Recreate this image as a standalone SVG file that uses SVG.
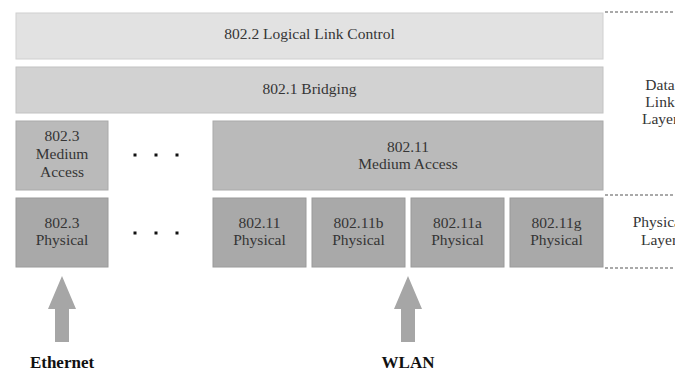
<svg xmlns="http://www.w3.org/2000/svg" width="675" height="371" viewBox="0 0 675 371">
<style>
text{font-family:"Liberation Serif","Times New Roman",serif;font-size:15.5px;fill:#353535;text-anchor:middle}
.llc{fill:#e2e2e2;stroke:#d0d0d0;stroke-width:1}
.br{fill:#d2d2d2;stroke:#c2c2c2;stroke-width:1}
.ma{fill:#bababa;stroke:#aaaaaa;stroke-width:1}
.ph{fill:#a9a9a9;stroke:#9a9a9a;stroke-width:1}
.dash{stroke:#555;stroke-width:1.2;stroke-dasharray:3 2;fill:none}
.arrow{fill:#a6a6a6}
.lbl{font-weight:bold;font-size:17px;fill:#111}
.dot{fill:#111}
</style>
<rect width="675" height="371" fill="#ffffff"/>
<g id="llc"><rect class="llc" x="16" y="13" width="587" height="46"/><text x="309.5" y="39">802.2 Logical Link Control</text></g>
<g id="bridging"><rect class="br" x="16" y="67" width="587" height="46"/><text x="309.5" y="94">802.1 Bridging</text></g>
<g id="ma8023"><rect class="ma" x="16" y="121" width="92" height="69"/><text x="62" y="141">802.3</text><text x="62" y="159">Medium</text><text x="62" y="177">Access</text></g>
<g id="ma80211"><rect class="ma" x="213" y="121" width="390" height="69"/><text x="408" y="152">802.11</text><text x="408" y="169">Medium Access</text></g>
<g id="ph8023"><rect class="ph" x="16" y="198" width="92" height="69"/><text x="62" y="228">802.3</text><text x="62" y="245">Physical</text></g>
<g id="ph80211"><rect class="ph" x="213" y="198" width="93" height="69"/><text x="259.5" y="228">802.11</text><text x="259.5" y="245">Physical</text></g>
<g id="ph80211b"><rect class="ph" x="312" y="198" width="93" height="69"/><text x="358.5" y="228">802.11b</text><text x="358.5" y="245">Physical</text></g>
<g id="ph80211a"><rect class="ph" x="411" y="198" width="93" height="69"/><text x="457.5" y="228">802.11a</text><text x="457.5" y="245">Physical</text></g>
<g id="ph80211g"><rect class="ph" x="510" y="198" width="93" height="69"/><text x="556.5" y="228">802.11g</text><text x="556.5" y="245">Physical</text></g>
<g id="dots">
<rect class="dot" x="133.5" y="153.5" width="3" height="3"/><rect class="dot" x="154.5" y="153.5" width="3" height="3"/><rect class="dot" x="175.5" y="153.5" width="3" height="3"/>
<rect class="dot" x="133.5" y="231.5" width="3" height="3"/><rect class="dot" x="154.5" y="231.5" width="3" height="3"/><rect class="dot" x="175.5" y="231.5" width="3" height="3"/>
</g>
<g id="layers">
<line class="dash" x1="605" y1="12" x2="675" y2="12"/>
<line class="dash" x1="605" y1="195" x2="675" y2="195"/>
<line class="dash" x1="605" y1="268" x2="675" y2="268"/>
<text x="660" y="90">Data</text><text x="660" y="107">Link</text><text x="660" y="124">Layer</text>
<text x="659" y="227">Physical</text><text x="659" y="245">Layer</text>
</g>
<g id="connectors">
<polygon class="arrow" points="62,276 76,309 69,309 69,342 55,342 55,309 48,309"/>
<polygon class="arrow" points="408,276 422,309 415,309 415,342 401,342 401,309 394,309"/>
</g>
<g id="ethernet"><text class="lbl" x="62" y="368">Ethernet</text></g>
<g id="wlan"><text class="lbl" x="408" y="368">WLAN</text></g>
</svg>
